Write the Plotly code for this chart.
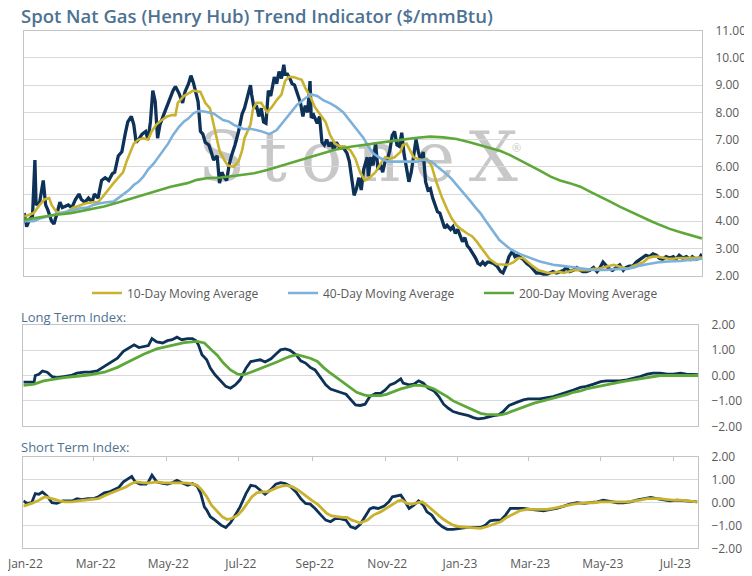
import pandas as pd
import plotly.graph_objects as go

# day offsets are counted from 1 Jan 2022
BASE = pd.Timestamp("2022-01-01")

# spot price
price_days = [1, 3, 6, 8, 10, 11, 14, 17, 19, 21, 24, 26, 28, 31, 33, 35, 38, 41, 44, 47,
              49, 52, 55, 58, 60, 63, 66, 69, 72, 75, 77, 80, 83, 86, 88, 91, 93, 95, 97, 100,
              103, 105, 107, 109, 111, 113, 115, 118, 121, 123, 126, 128, 131, 134, 136, 139, 141, 143, 145, 147,
              149, 151, 153, 156, 158, 160, 163, 165, 167, 169, 171, 173, 175, 178, 181, 184, 186, 189, 191, 192,
              194, 196, 198, 200, 202, 204, 206, 208, 211, 213, 215, 217, 219, 220, 222, 224, 226, 228, 230, 233,
              235, 237, 239, 241, 242, 244, 247, 249, 251, 253, 255, 257, 259, 261, 263, 266, 269, 272, 274, 276,
              278, 280, 282, 284, 286, 289, 290, 292, 294, 296, 298, 300, 302, 304, 306, 308, 310, 312, 314, 316,
              318, 320, 322, 324, 326, 328, 330, 332, 334, 336, 338, 340, 342, 344, 346, 348, 350, 352, 354, 356,
              359, 361, 363, 365, 367, 369, 371, 373, 375, 378, 380, 382, 384, 386, 388, 390, 392, 395, 398, 401,
              403, 406, 408, 411, 413, 415, 418, 420, 423, 426, 429, 431, 434, 437, 440, 442, 445, 448, 451, 454,
              456, 459, 462, 465, 468, 470, 473, 476, 479, 482, 484, 487, 490, 492, 495, 498, 501, 504, 506, 509,
              512, 515, 518, 520, 523, 526, 529, 532, 534, 537, 540, 543, 546, 548, 551, 554, 557, 560, 562, 565,
              568, 570]
price_vals = [4.3, 3.8, 4.1, 4.2, 6.25, 4.6, 4.7, 5.5, 4.6, 4.4, 4.0, 3.9, 4.2, 4.7, 4.5, 4.55, 4.6, 4.5, 4.8, 5.0,
              4.8, 4.7, 4.85, 4.7, 5.0, 4.85, 5.5, 5.6, 5.5, 5.75, 5.8, 6.4, 6.55, 7.25, 7.65, 7.85, 7.55, 6.9, 7.0, 7.2,
              7.3, 7.0, 7.65, 8.8, 8.4, 7.05, 7.55, 7.9, 8.25, 8.5, 8.8, 8.95, 8.7, 8.35, 8.75, 9.05, 9.35, 9.1, 8.75, 8.4,
              7.3, 7.2, 6.9, 6.8, 6.55, 6.25, 6.4, 5.4, 5.8, 5.6, 5.5, 6.05, 6.4, 6.8, 7.3, 7.95, 8.15, 8.7, 9.0, 8.65,
              8.15, 8.25, 7.85, 8.15, 7.65, 7.6, 8.8, 8.6, 9.3, 9.05, 9.5, 9.25, 9.75, 9.4, 9.4, 9.25, 9.05, 9.0, 8.7, 8.35,
              7.85, 8.25, 8.0, 9.15, 7.8, 7.9, 7.6, 7.85, 6.9, 6.8, 7.0, 6.75, 6.9, 6.6, 6.9, 6.7, 6.7, 6.5, 6.2, 5.45,
              4.95, 5.2, 5.6, 5.15, 5.9, 6.35, 5.65, 6.35, 6.05, 6.9, 5.9, 6.1, 5.8, 6.2, 6.3, 6.6, 7.15, 7.3, 6.8, 6.75,
              7.25, 6.45, 5.95, 5.45, 5.8, 6.45, 7.0, 6.55, 6.2, 6.55, 5.45, 5.15, 5.2, 4.85, 4.6, 4.35, 4.3, 4.0, 3.75, 3.85,
              3.7, 3.8, 3.55, 3.7, 3.45, 3.25, 3.4, 3.1, 3.0, 2.8, 2.65, 2.45, 2.4, 2.5, 2.4, 2.5, 2.5, 2.45, 2.35, 2.15,
              2.1, 2.4, 2.7, 2.9, 2.7, 2.75, 2.65, 2.6, 2.45, 2.35, 2.2, 2.1, 2.1, 2.05, 2.05, 2.1, 2.15, 2.1, 2.15, 2.2,
              2.3, 2.15, 2.2, 2.3, 2.2, 2.15, 2.15, 2.2, 2.3, 2.15, 2.25, 2.5, 2.35, 2.25, 2.2, 2.3, 2.4, 2.2, 2.3, 2.35,
              2.35, 2.5, 2.6, 2.65, 2.75, 2.7, 2.8, 2.75, 2.65, 2.6, 2.7, 2.65, 2.7, 2.6, 2.75, 2.65, 2.7, 2.6, 2.7, 2.6,
              2.65, 2.8]

# 10-day moving average
ma10_days = [1, 9, 14, 18, 22, 24, 28, 32, 37, 42, 46, 52, 58, 63, 67, 72, 76, 80, 84, 87,
             90, 93, 97, 101, 105, 108, 112, 116, 121, 125, 128, 130, 135, 139, 143, 149, 153, 157, 160, 163,
             165, 169, 172, 177, 181, 184, 186, 191, 193, 196, 200, 205, 209, 213, 217, 220, 223, 227, 231, 234,
             237, 241, 245, 249, 254, 258, 262, 266, 270, 275, 279, 283, 287, 291, 296, 300, 304, 308, 312, 317,
             319, 322, 325, 328, 331, 335, 339, 343, 347, 352, 356, 360, 364, 368, 373, 377, 381, 385, 389, 392,
             398, 403, 407, 412, 416, 420, 424, 428, 433, 437, 441, 445, 450, 454, 458, 462, 466, 470, 475, 479,
             483, 487, 491, 496, 500, 504, 508, 512, 517, 521, 525, 529, 533, 538, 542, 546, 550, 555, 559, 563,
             567, 570]
ma10_vals = [4.17, 4.3, 4.6, 4.8, 4.85, 4.6, 4.35, 4.3, 4.35, 4.5, 4.55, 4.65, 4.7, 4.7, 4.9, 5.2, 5.4, 5.6, 5.8, 6.2,
             6.55, 6.85, 7.0, 7.05, 7.0, 7.3, 7.55, 7.7, 7.85, 7.9, 7.9, 8.35, 8.6, 8.7, 8.8, 8.75, 8.35, 8.15, 7.55, 7.0,
             6.6, 6.25, 6.05, 6.0, 6.2, 6.6, 7.05, 7.55, 8.1, 8.35, 8.35, 8.0, 8.2, 8.45, 8.65, 9.15, 9.3, 9.3, 9.25, 9.2,
             8.9, 8.6, 8.2, 7.95, 7.65, 7.15, 6.85, 6.75, 6.75, 6.6, 6.3, 5.8, 5.5, 5.6, 5.8, 6.1, 6.35, 6.3, 6.35, 6.55,
             6.8, 6.85, 6.6, 6.35, 6.3, 6.25, 6.3, 6.05, 5.45, 4.85, 4.45, 4.1, 3.85, 3.7, 3.55, 3.45, 3.25, 3.0, 2.75, 2.6,
             2.42, 2.4, 2.4, 2.5, 2.65, 2.65, 2.5, 2.35, 2.2, 2.15, 2.1, 2.1, 2.15, 2.1, 2.15, 2.2, 2.2, 2.2, 2.2, 2.25,
             2.25, 2.3, 2.35, 2.4, 2.35, 2.3, 2.25, 2.35, 2.42, 2.5, 2.65, 2.7, 2.7, 2.65, 2.62, 2.62, 2.65, 2.65, 2.65, 2.65,
             2.65, 2.67]

# 40-day moving average
ma40_days = [1, 9, 14, 20, 26, 31, 37, 42, 48, 54, 59, 65, 70, 76, 80, 84, 89, 93, 97, 101,
             105, 110, 114, 118, 122, 126, 131, 135, 139, 143, 147, 152, 156, 160, 164, 168, 173, 177, 181, 185,
             189, 191, 199, 207, 213, 219, 224, 230, 237, 242, 247, 252, 258, 263, 269, 273, 277, 282, 286, 290,
             294, 298, 303, 308, 314, 319, 325, 331, 335, 339, 343, 347, 352, 356, 360, 364, 368, 372, 376, 380,
             384, 388, 392, 396, 400, 405, 409, 413, 417, 423, 428, 434, 440, 445, 451, 457, 462, 468, 473, 479,
             485, 490, 496, 501, 507, 513, 518, 524, 529, 535, 541, 546, 552, 557, 563, 570]
ma40_vals = [4.0, 4.0, 4.1, 4.17, 4.23, 4.3, 4.35, 4.42, 4.48, 4.5, 4.6, 4.66, 4.7, 4.72, 4.85, 4.97, 5.15, 5.33, 5.45, 5.64,
             5.9, 6.13, 6.37, 6.62, 6.86, 7.17, 7.47, 7.66, 7.78, 7.96, 8.05, 8.03, 8.0, 7.96, 7.84, 7.72, 7.66, 7.54, 7.47, 7.39,
             7.39, 7.4, 7.32, 7.2, 7.35, 7.66, 7.96, 8.27, 8.52, 8.66, 8.6, 8.45, 8.33, 8.2, 8.0, 7.78, 7.54, 7.29, 7.05, 6.74,
             6.5, 6.37, 6.25, 6.19, 6.19, 6.19, 6.19, 6.19, 6.25, 6.25, 6.19, 6.05, 5.88, 5.72, 5.55, 5.35, 5.15, 4.95, 4.72, 4.5,
             4.3, 4.05, 3.8, 3.56, 3.31, 3.13, 2.98, 2.89, 2.8, 2.7, 2.62, 2.52, 2.46, 2.4, 2.37, 2.35, 2.31, 2.27, 2.24, 2.21,
             2.21, 2.21, 2.24, 2.24, 2.25, 2.3, 2.37, 2.42, 2.46, 2.5, 2.52, 2.52, 2.54, 2.57, 2.58, 2.62]

# 200-day moving average
ma200_days = [1, 12, 26, 40, 54, 68, 82, 96, 110, 124, 138, 146, 154, 166, 180, 194, 205, 219, 233, 247,
              261, 275, 289, 303, 317, 331, 342, 353, 364, 375, 387, 392, 401, 409, 417, 426, 434, 443, 451, 459,
              468, 476, 485, 493, 501, 510, 518, 527, 535, 543, 552, 560, 570]
ma200_vals = [4.05, 4.13, 4.23, 4.3, 4.42, 4.54, 4.72, 4.9, 5.09, 5.27, 5.4, 5.52, 5.58, 5.61, 5.68, 5.76, 5.88, 6.07, 6.25, 6.43,
              6.62, 6.74, 6.83, 6.9, 6.99, 7.07, 7.11, 7.08, 7.02, 6.9, 6.74, 6.68, 6.58, 6.43, 6.25, 6.07, 5.86, 5.64, 5.5, 5.4,
              5.27, 5.09, 4.88, 4.72, 4.54, 4.35, 4.17, 4.01, 3.86, 3.72, 3.6, 3.5, 3.37]

# long term index
lt_days = [0, 9, 10, 13, 16, 20, 24, 28, 34, 40, 45, 51, 56, 62, 68, 73, 79, 84, 89, 93,
           97, 101, 105, 108, 112, 117, 121, 125, 129, 133, 138, 142, 145, 147, 150, 154, 157, 161, 166, 170,
           174, 178, 182, 187, 191, 195, 199, 203, 208, 212, 216, 220, 224, 229, 233, 237, 241, 245, 250, 254,
           258, 262, 266, 271, 275, 279, 283, 287, 291, 296, 300, 304, 308, 312, 317, 319, 324, 328, 332, 336,
           340, 345, 349, 353, 357, 361, 366, 370, 374, 378, 382, 387, 391, 395, 399, 403, 408, 412, 416, 420,
           424, 429, 434, 440, 445, 451, 457, 462, 468, 473, 479, 485, 490, 496, 501, 507, 513, 518, 524, 529,
           535, 541, 546, 552, 557, 563, 567]
lt_vals = [-0.26, -0.26, 0.0, 0.05, 0.18, 0.13, -0.04, -0.08, -0.04, 0.0, 0.09, 0.13, 0.13, 0.18, 0.36, 0.49, 0.68, 0.95, 1.1, 1.21,
           1.1, 1.14, 1.18, 1.45, 1.32, 1.28, 1.37, 1.41, 1.51, 1.41, 1.45, 1.45, 1.37, 1.21, 0.82, 0.62, 0.29, 0.03, -0.24, -0.43,
           -0.5, -0.37, -0.17, 0.29, 0.55, 0.58, 0.62, 0.53, 0.66, 0.84, 1.01, 1.05, 0.99, 0.82, 0.58, 0.49, 0.32, 0.22, -0.11, -0.37,
           -0.53, -0.61, -0.66, -0.74, -0.96, -1.16, -1.18, -1.13, -0.83, -0.7, -0.7, -0.57, -0.37, -0.3, -0.13, -0.3, -0.37, -0.34, -0.21, -0.3,
           -0.5, -0.61, -0.83, -1.13, -1.29, -1.42, -1.49, -1.53, -1.58, -1.66, -1.71, -1.68, -1.62, -1.58, -1.55, -1.42, -1.18, -1.09, -1.03, -0.96,
           -0.92, -0.92, -0.92, -0.87, -0.83, -0.74, -0.66, -0.57, -0.47, -0.43, -0.34, -0.24, -0.21, -0.21, -0.21, -0.17, -0.11, -0.04, 0.05, 0.09,
           0.09, 0.05, 0.05, 0.09, 0.05, 0.05, 0.03]
lt_sig_days = [0, 9, 17, 26, 34, 45, 56, 68, 79, 90, 101, 112, 124, 135, 146, 152, 157, 163, 168, 174,
               180, 185, 191, 196, 202, 208, 213, 219, 224, 230, 236, 241, 247, 252, 258, 264, 269, 275, 280, 286,
               289, 294, 300, 305, 311, 317, 322, 328, 333, 339, 345, 350, 356, 361, 367, 373, 378, 384, 389, 395,
               401, 406, 412, 417, 423, 429, 434, 440, 445, 451, 457, 462, 468, 473, 479, 485, 490, 496, 501, 507,
               513, 518, 524, 529, 535, 541, 546, 552, 557, 567]
lt_sig_vals = [-0.39, -0.34, -0.21, -0.13, -0.08, -0.03, 0.03, 0.13, 0.32, 0.58, 0.84, 1.05, 1.18, 1.29, 1.34, 1.28, 1.05, 0.79, 0.49, 0.22,
               0.05, 0.03, 0.13, 0.22, 0.32, 0.42, 0.53, 0.66, 0.75, 0.82, 0.75, 0.68, 0.55, 0.32, 0.09, -0.11, -0.3, -0.5, -0.66, -0.76,
               -0.79, -0.79, -0.79, -0.74, -0.63, -0.53, -0.47, -0.39, -0.39, -0.43, -0.53, -0.66, -0.83, -1.0, -1.13, -1.26, -1.39, -1.49, -1.53, -1.55,
               -1.55, -1.49, -1.39, -1.29, -1.18, -1.09, -1.03, -0.96, -0.89, -0.83, -0.74, -0.66, -0.61, -0.53, -0.47, -0.39, -0.37, -0.3, -0.26, -0.21,
               -0.17, -0.11, -0.08, -0.04, 0.0, 0.0, 0.0, 0.0, 0.0, 0.0]

# short term index
st_days = [0, 3, 7, 10, 13, 16, 20, 24, 28, 33, 37, 41, 45, 49, 54, 59, 63, 68, 72, 76,
           80, 84, 89, 91, 94, 98, 103, 105, 108, 112, 117, 121, 125, 129, 133, 138, 142, 146, 149, 152,
           154, 157, 161, 166, 170, 174, 178, 182, 187, 191, 195, 199, 203, 208, 212, 216, 220, 224, 229, 233,
           237, 241, 245, 250, 254, 258, 262, 266, 271, 275, 279, 283, 287, 291, 294, 298, 303, 307, 310, 314,
           317, 319, 324, 328, 332, 336, 339, 343, 347, 352, 356, 361, 367, 373, 378, 384, 388, 392, 396, 401,
           405, 409, 415, 420, 426, 431, 437, 443, 448, 454, 459, 465, 471, 476, 482, 487, 493, 499, 504, 510,
           515, 521, 527, 532, 538, 543, 549, 555, 560, 566]
st_vals = [0.07, -0.04, -0.01, 0.39, 0.36, 0.46, 0.28, -0.01, -0.04, 0.07, 0.07, 0.07, 0.17, 0.13, 0.17, 0.17, 0.25, 0.42, 0.46, 0.54,
           0.65, 0.9, 1.09, 1.14, 0.9, 0.8, 0.8, 0.9, 1.19, 0.9, 0.83, 0.8, 0.86, 0.97, 0.86, 0.75, 0.83, 0.71, 0.39, -0.19,
           -0.33, -0.62, -0.77, -0.99, -1.09, -0.88, -0.55, -0.19, 0.39, 0.75, 0.71, 0.54, 0.36, 0.57, 0.8, 0.87, 0.83, 0.71, 0.46, 0.17,
           -0.04, -0.07, -0.26, -0.55, -0.77, -0.84, -0.7, -0.7, -0.77, -1.06, -1.13, -0.95, -0.6, -0.28, -0.22, -0.26, -0.16, 0.03, 0.25, 0.28,
           0.32, 0.17, -0.26, -0.12, 0.07, -0.12, -0.41, -0.55, -0.84, -1.06, -1.17, -1.17, -1.13, -1.09, -1.09, -1.09, -0.99, -0.8, -0.77, -0.77,
           -0.55, -0.26, -0.26, -0.26, -0.3, -0.33, -0.36, -0.3, -0.26, -0.16, -0.07, -0.01, -0.04, -0.01, 0.03, 0.1, 0.03, -0.01, -0.01, 0.03,
           0.1, 0.17, 0.22, 0.17, 0.13, 0.07, 0.1, 0.07, 0.03, 0.03]
st_sig_days = [0, 7, 13, 18, 24, 30, 35, 41, 46, 52, 58, 63, 69, 74, 80, 86, 91, 95, 101, 107,
               112, 118, 123, 129, 135, 140, 146, 150, 154, 158, 163, 167, 171, 175, 180, 184, 188, 192, 196, 200,
               205, 209, 213, 217, 221, 226, 230, 234, 238, 242, 247, 251, 255, 259, 263, 268, 272, 276, 280, 283,
               289, 294, 300, 305, 311, 315, 318, 322, 326, 331, 335, 339, 343, 347, 352, 356, 361, 367, 373, 378,
               384, 389, 395, 401, 406, 412, 417, 423, 429, 434, 440, 445, 451, 457, 462, 468, 473, 479, 485, 490,
               496, 501, 507, 513, 518, 524, 529, 535, 541, 546, 552, 557, 566]
st_sig_vals = [-0.16, -0.04, 0.1, 0.25, 0.17, 0.07, 0.03, 0.03, 0.07, 0.1, 0.13, 0.17, 0.32, 0.42, 0.54, 0.68, 0.83, 0.9, 0.86, 0.86,
               0.9, 0.86, 0.86, 0.87, 0.86, 0.83, 0.75, 0.54, 0.25, -0.12, -0.41, -0.62, -0.74, -0.7, -0.55, -0.33, -0.04, 0.25, 0.42, 0.46,
               0.46, 0.57, 0.65, 0.71, 0.75, 0.68, 0.57, 0.42, 0.25, 0.1, -0.07, -0.26, -0.48, -0.59, -0.62, -0.65, -0.65, -0.77, -0.84, -0.9,
               -0.77, -0.55, -0.41, -0.26, -0.07, 0.07, 0.1, -0.04, -0.07, -0.01, 0.03, -0.12, -0.3, -0.51, -0.7, -0.84, -0.99, -1.06, -1.09, -1.09,
               -1.13, -1.06, -0.94, -0.84, -0.65, -0.48, -0.36, -0.3, -0.3, -0.33, -0.3, -0.26, -0.19, -0.12, -0.07, -0.04, -0.01, -0.01, 0.03, 0.03,
               0.03, 0.03, 0.03, 0.07, 0.1, 0.17, 0.17, 0.17, 0.13, 0.1, 0.1, 0.07, 0.03]

legend_names = ["10-Day Moving Average", "40-Day Moving Average", "200-Day Moving Average"]


def to_dates(days):
    return BASE + pd.to_timedelta(days, unit="D")


NAVY = "#0d3157"
GOLD = "#c8b22e"
LBLUE = "#7db1da"
GREEN = "#5ea83a"
SLATE = "#4e7291"
GRAY = "#595959"
FONT = "Open Sans"

# the page body keeps an 8px margin, so the figure is 8px smaller on each axis
OFF = 8
W, H = 752 - OFF, 576 - OFF


def fx(px):
    return (px - OFF) / W


def fy(py):
    return 1 - (py - OFF) / H


fig = go.Figure()

# top panel
fig.add_trace(go.Scatter(x=to_dates(price_days), y=price_vals, mode="lines", showlegend=False,
                         line=dict(color=NAVY, width=3.3), xaxis="x", yaxis="y"))
for name, d, v, c in zip(legend_names, [ma10_days, ma40_days, ma200_days],
                         [ma10_vals, ma40_vals, ma200_vals], [GOLD, LBLUE, GREEN]):
    fig.add_trace(go.Scatter(x=to_dates(d), y=v, mode="lines", name=name,
                             line=dict(color=c, width=2.6), xaxis="x", yaxis="y"))

# long term index
fig.add_trace(go.Scatter(x=to_dates(lt_days), y=lt_vals, mode="lines", showlegend=False,
                         line=dict(color=NAVY, width=2.8), xaxis="x2", yaxis="y2"))
fig.add_trace(go.Scatter(x=to_dates(lt_sig_days), y=lt_sig_vals, mode="lines", showlegend=False,
                         line=dict(color=GREEN, width=2.8), xaxis="x2", yaxis="y2"))

# short term index
fig.add_trace(go.Scatter(x=to_dates(st_days), y=st_vals, mode="lines", showlegend=False,
                         line=dict(color=NAVY, width=2.8), xaxis="x3", yaxis="y3"))
fig.add_trace(go.Scatter(x=to_dates(st_sig_days), y=st_sig_vals, mode="lines", showlegend=False,
                         line=dict(color=GOLD, width=2.8), xaxis="x3", yaxis="y3"))
# empty trace so the top tick axis of the short term panel gets drawn
fig.add_trace(go.Scatter(x=[], y=[], showlegend=False, hoverinfo="skip", xaxis="x4", yaxis="y3"))

top_range = [BASE + pd.Timedelta(days=1.1), BASE + pd.Timedelta(days=570.1)]
low_range = [BASE - pd.Timedelta(hours=2), BASE + pd.Timedelta(days=566.7)]
tick_dates = pd.date_range("2022-01-01", "2023-07-01", freq="2MS")
tick_text = [t.strftime("%b-%y") for t in tick_dates]

box = dict(showline=True, linecolor="#c4c4c4", linewidth=1, mirror=True, automargin=False)
xcommon = dict(type="date", showgrid=False, zeroline=False, **box)
ycommon = dict(side="right", showgrid=True, gridcolor="#d9d9d9", gridwidth=1, zeroline=False,
               tickformat=".2f", dtick=1, ticks="", ticklen=0, ticklabelstandoff=10,
               tickfont=dict(family=FONT, size=12, color=GRAY), **box)

fig.update_layout(
    width=W, height=H,
    margin=dict(l=0, r=0, t=0, b=0),
    paper_bgcolor="white", plot_bgcolor="white",
    font=dict(family=FONT, color=GRAY),
    xaxis=dict(domain=[fx(24.3), fx(702)], anchor="y", range=top_range, showticklabels=False, **xcommon),
    yaxis=dict(domain=[fy(275.7), fy(30.7)], anchor="x", range=[2, 11], **ycommon),
    xaxis2=dict(domain=[fx(23.3), fx(698)], anchor="y2", range=low_range, showticklabels=False, **xcommon),
    yaxis2=dict(domain=[fy(426.3), fy(324.7)], anchor="x2", range=[-2, 2], **ycommon),
    xaxis3=dict(domain=[fx(23.3), fx(698)], anchor="y3", range=low_range,
                tickvals=tick_dates, ticktext=tick_text, ticks="", ticklabelstandoff=4,
                ticklabelshift=2, ticklabeloverflow="allow",
                tickfont=dict(family=FONT, size=12, color=GRAY), **xcommon),
    yaxis3=dict(domain=[fy(548.3), fy(456.7)], anchor="x3", range=[-2, 2], **ycommon),
    xaxis4=dict(overlaying="x3", matches="x3", anchor="y3", side="top", type="date", automargin=False,
                tickvals=tick_dates, showticklabels=False, ticks="inside", ticklen=4,
                tickcolor="#c4c4c4", showgrid=False, showline=False, zeroline=False),
    legend=dict(orientation="h", x=fx(87), xanchor="left", y=fy(293), yanchor="middle",
                font=dict(family=FONT, size=12, color=GRAY), entrywidth=151, entrywidthmode="pixels",
                bgcolor="rgba(0,0,0,0)", itemwidth=30),
)

# watermark behind the lines
fig.add_shape(type="rect", xref="paper", yref="paper",
              x0=fx(198), x1=fx(518), y0=fy(196), y1=fy(108),
              line=dict(width=0), fillcolor="rgba(0,0,0,0)", layer="between",
              label=dict(text="S\u2009t\u2009o\u2009n\u2009e\u2009X", textposition="middle center",
                         font=dict(family="DejaVu Serif", size=69, color="#c8c8c8")))

fig.add_annotation(text="®", xref="paper", yref="paper", x=fx(523), y=fy(138),
                   showarrow=False, font=dict(family=FONT, size=11, color="#c9c9c9"))

fig.add_annotation(text="Spot Nat Gas (Henry Hub) Trend Indicator ($/mmBtu)", xref="paper", yref="paper",
                   x=fx(19), y=fy(16), xanchor="left", yanchor="middle", showarrow=False,
                   font=dict(family=FONT, size=18.5, color=SLATE, weight=600))
fig.add_annotation(text="Long Term Index:", xref="paper", yref="paper",
                   x=fx(19), y=fy(317), xanchor="left", yanchor="middle", showarrow=False,
                   font=dict(family=FONT, size=13, color=SLATE))
fig.add_annotation(text="Short Term Index:", xref="paper", yref="paper",
                   x=fx(19), y=fy(447), xanchor="left", yanchor="middle", showarrow=False,
                   font=dict(family=FONT, size=13, color=SLATE))

fig.write_html("out.html")
